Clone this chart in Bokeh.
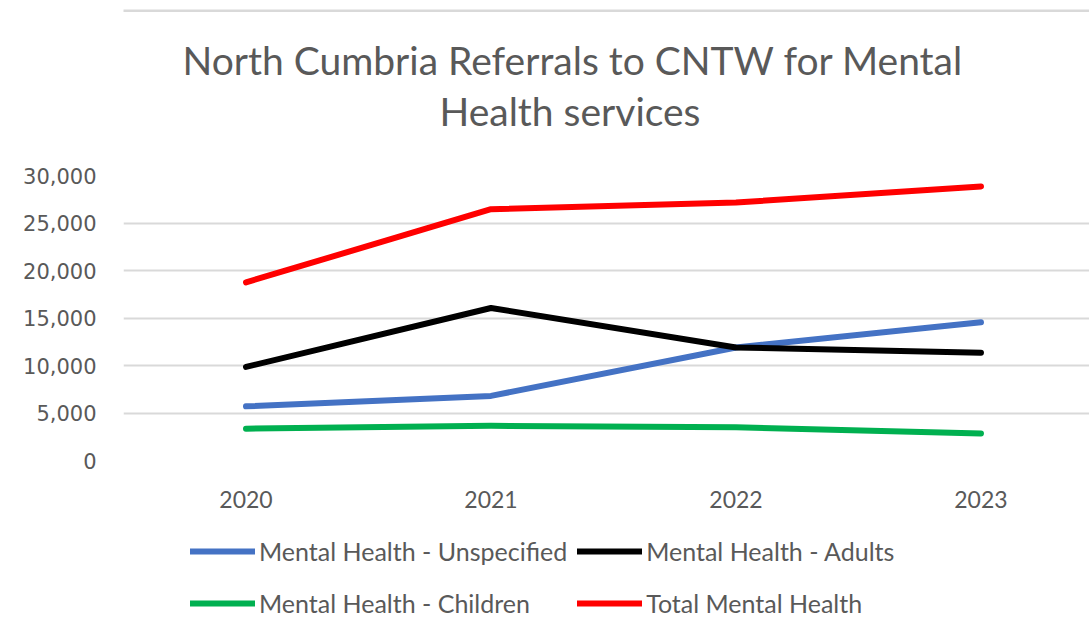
from bokeh.plotting import figure
from bokeh.models import (Range1d, FixedTicker, NumeralTickFormatter, Legend,
                          LegendItem, Title, ColumnDataSource)
from bokeh.layouts import column
from bokeh.embed import file_html
from bokeh.resources import INLINE

# Referrals per year
years = ["2020", "2021", "2022", "2023"]
unspecified = [5700, 6800, 11900, 14550]
adults = [9850, 16050, 11900, 11350]
children = [3350, 3650, 3500, 2850]
total = [18750, 26450, 27150, 28850]

series = [
    ("Mental Health - Unspecified", unspecified, "#4472C4"),
    ("Mental Health - Adults", adults, "#000000"),
    ("Mental Health - Children", children, "#00B050"),
    ("Total Mental Health", total, "#FF0000"),
]

TEXT_GREY = "#595959"
GRID_GREY = "#d9d9d9"
CAT_FONT = "Lato"
LINE_W = 6
W = 1089

x_idx = list(range(len(years)))


def blank_strip(height, left, top, bottom, frame_fill="white"):
    """A figure with no axes, used for the rule, title and legend bands."""
    f = figure(width=W, height=height,
               x_range=Range1d(0, 1), y_range=Range1d(0, 1),
               x_axis_type=None, y_axis_type=None,
               output_backend="svg", toolbar_location=None,
               min_border_left=left, min_border_right=0,
               min_border_top=top, min_border_bottom=bottom)
    f.outline_line_color = None
    f.background_fill_color = frame_fill
    f.border_fill_color = "white"
    return f


# ---- thin grey rule across the top (its frame is the rule) -------------
rule = blank_strip(12, left=5, top=9, bottom=0, frame_fill=GRID_GREY)

# ---- title band ---------------------------------------------------------
head = blank_strip(151, left=123, top=123, bottom=0)
head.add_layout(Title(text="Health services", align="left", offset=316,
                      text_font=CAT_FONT, text_font_size="39px",
                      text_font_style="normal", text_color=TEXT_GREY,
                      standoff=3), "above")
head.add_layout(Title(text="North Cumbria Referrals to CNTW for Mental",
                      align="left", offset=59,
                      text_font=CAT_FONT, text_font_size="39px",
                      text_font_style="normal", text_color=TEXT_GREY,
                      standoff=3), "above")

# ---- main chart -------------------------------------------------------
p = figure(width=W, height=357,
           x_range=Range1d(-0.5, 3.443), y_range=Range1d(0, 30000),
           output_backend="svg", toolbar_location=None,
           min_border_left=123, min_border_right=0,
           min_border_top=12, min_border_bottom=60)
p.outline_line_color = None
p.background_fill_color = "white"
p.border_fill_color = "white"

for name, vals, color in series:
    src = ColumnDataSource(dict(x=x_idx, y=vals))
    p.line("x", "y", source=src, line_color=color, line_width=LINE_W,
           line_cap="round", line_join="round")

p.xgrid.grid_line_color = None
p.ygrid.grid_line_color = GRID_GREY
p.ygrid.grid_line_width = 2

p.yaxis.ticker = FixedTicker(ticks=[0, 5000, 10000, 15000, 20000, 25000, 30000])
p.yaxis.formatter = NumeralTickFormatter(format="0,0")
p.yaxis.axis_line_color = None
p.yaxis.major_tick_line_color = None
p.yaxis.minor_tick_line_color = None
p.yaxis.major_label_text_font = "DejaVu Sans"
p.yaxis.major_label_text_font_size = "21px"
p.yaxis.major_label_text_color = TEXT_GREY
p.yaxis.major_label_standoff = 21

p.xaxis.ticker = FixedTicker(ticks=x_idx)
p.xaxis.major_label_overrides = {i: y for i, y in zip(x_idx, years)}
p.xaxis.axis_line_color = None
p.xaxis.major_tick_line_color = None
p.xaxis.minor_tick_line_color = None
p.xaxis.major_label_text_font = CAT_FONT
p.xaxis.major_label_text_font_size = "23px"
p.xaxis.major_label_text_color = TEXT_GREY
p.xaxis.major_label_standoff = 24

# ---- legend band under the chart --------------------------------------
leg = blank_strip(98, left=123, top=0, bottom=0)
keys = {}
for name, vals, color in series:
    # same series, outside this band's 0..1 view, so only the key shows
    src = ColumnDataSource(dict(x=x_idx, y=vals))
    keys[name] = leg.line("x", "y", source=src, line_color=color,
                          line_width=LINE_W, line_cap="round")

# filled column by column: first column Unspecified/Children
order = ["Mental Health - Unspecified", "Mental Health - Children",
         "Mental Health - Adults", "Total Mental Health"]
legend = Legend(items=[LegendItem(label=n, renderers=[keys[n]]) for n in order],
                ncols=2, location=(67, -6),
                glyph_width=65, glyph_height=42, label_height=42,
                label_standoff=4, spacing=10, padding=0, margin=0,
                border_line_color=None, background_fill_alpha=0,
                label_text_font=CAT_FONT, label_text_font_size="25px",
                label_text_color=TEXT_GREY)
leg.add_layout(legend, "center")

layout = column(rule, head, p, leg, spacing=0, margin=0)

open("out.html", "w").write(file_html(layout, INLINE))
